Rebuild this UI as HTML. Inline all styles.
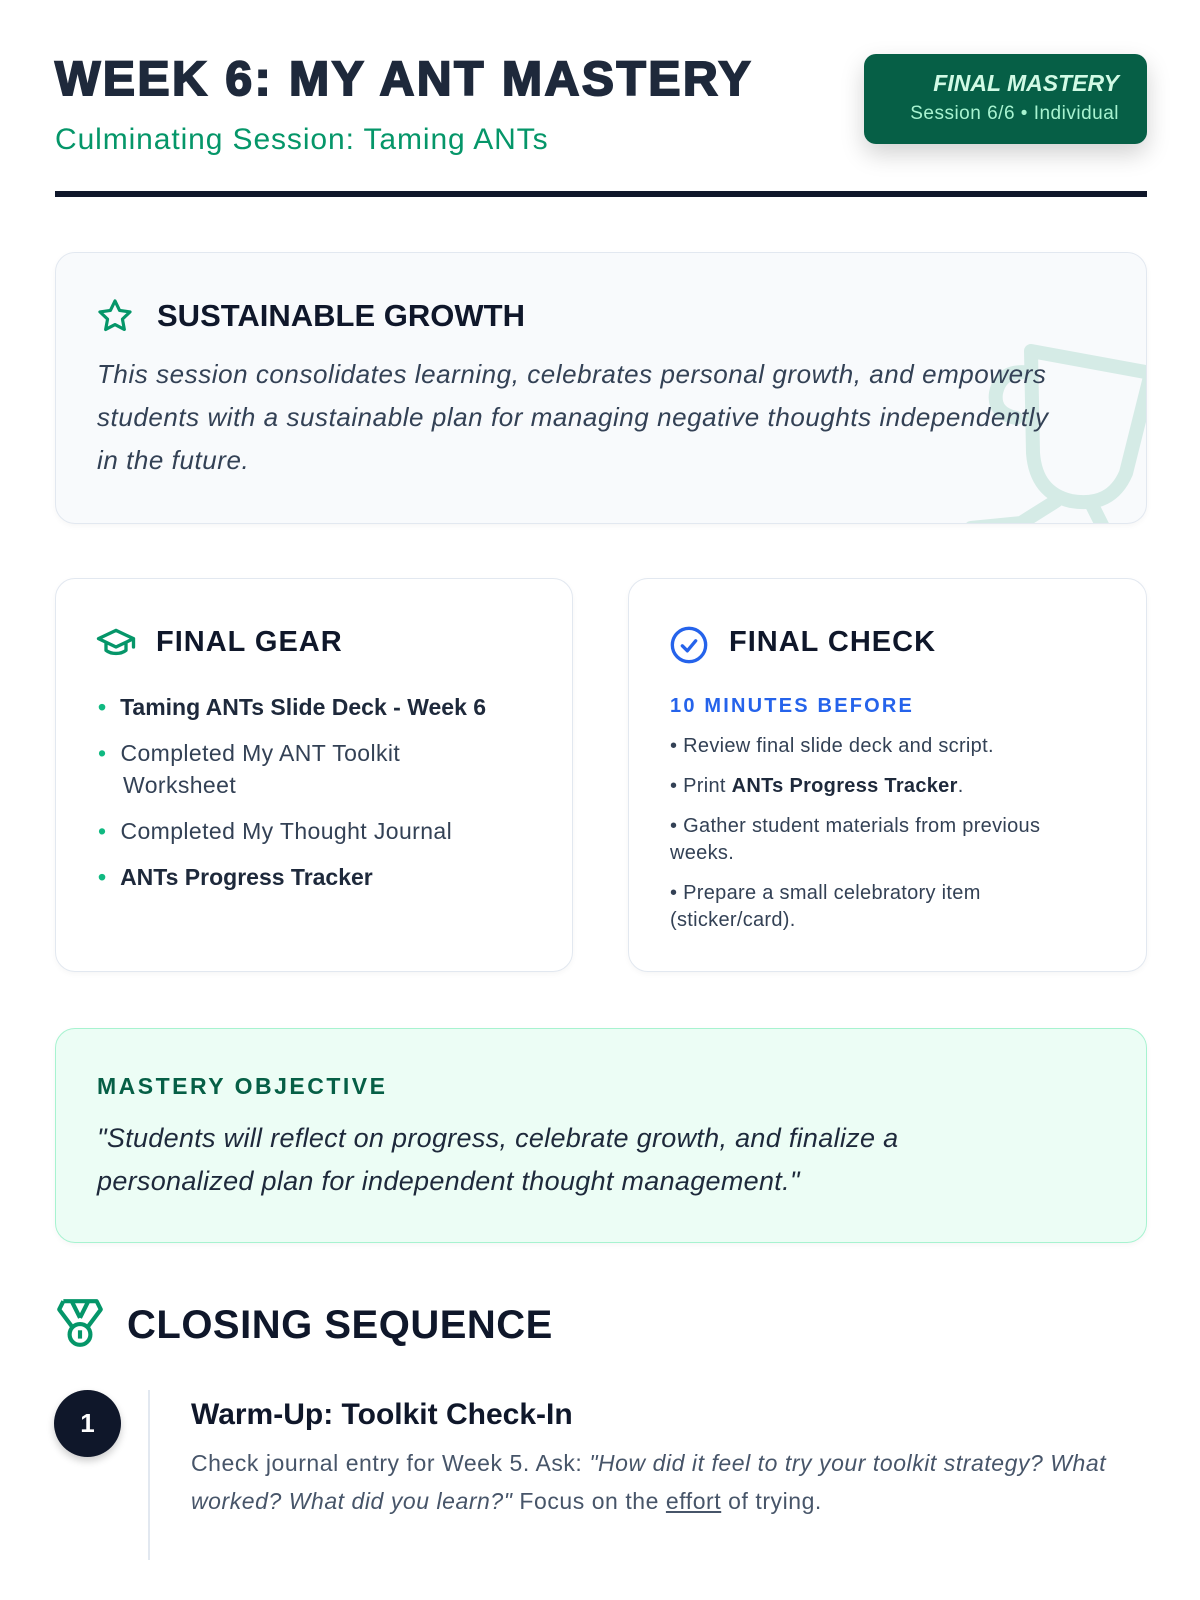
<!DOCTYPE html>
<html><head><meta charset="utf-8"><style>
*{box-sizing:border-box;margin:0;padding:0}
body{width:1200px;height:1600px;background:#fff;font-family:"Liberation Sans",sans-serif;color:#0f172a;position:relative;overflow:hidden}
.abs{position:absolute}
.card{position:absolute;border:1.5px solid #e2e8f0;border-radius:20px;background:#fff;box-shadow:0 2px 6px rgba(0,0,0,.04)}
h2{font-size:29px;font-weight:bold;letter-spacing:.3px;color:#0f172a}
ul{list-style:none}
</style></head><body>
<div class="abs" style="left:55px;top:52px;font-size:48px;font-weight:900;letter-spacing:2.6px;color:#1e293b;-webkit-text-stroke:2px #1e293b">WEEK 6: MY ANT MASTERY</div>
<div class="abs" style="left:55px;top:123px;font-size:30px;letter-spacing:.9px;color:#059669">Culminating Session: Taming ANTs</div>
<div class="abs" style="left:864px;top:54px;width:283px;height:90px;background:#065f46;border-radius:12px;box-shadow:0 10px 24px rgba(0,0,0,.18);text-align:right;padding:16px 28px 0 0">
<div style="font-size:23px;font-weight:bold;font-style:italic;color:#d1fae5">FINAL MASTERY</div>
<div style="font-size:19px;color:#a7f3d0;margin-top:6px;letter-spacing:.5px">Session 6/6 • Individual</div></div>
<div class="abs" style="left:55px;top:191px;width:1092px;height:6px;background:#0f172a"></div>

<div class="card" style="left:55px;top:252px;width:1092px;height:272px;background:#f8fafc;overflow:hidden">
<svg class="abs" style="left:905px;top:80px" width="200" height="210" viewBox="0 0 200 210"><g fill="none" stroke="#d5ebe6" stroke-width="14" stroke-linecap="round" stroke-linejoin="round"><path d="M70 18 L190 40 L165 140 Q150 175 110 168 Q75 160 72 120 Z"/><path d="M70 40 Q40 35 35 60 Q32 80 55 85"/><path d="M95 168 L60 190 L10 195"/><path d="M130 170 L150 210"/></g></svg>
<svg class="abs" style="left:40px;top:44px" width="38" height="38" viewBox="0 0 24 24"><path d="M12 2.5l2.9 6 6.6.9-4.8 4.6 1.2 6.5L12 17.4l-5.9 3.1 1.2-6.5L2.5 9.4l6.6-.9z" fill="none" stroke="#059669" stroke-width="2" stroke-linejoin="round"/></svg>
<h2 class="abs" style="left:101px;top:45px;font-size:31px;letter-spacing:0">SUSTAINABLE GROWTH</h2>
<div class="abs" style="left:41px;top:100px;width:972px;font-size:26px;font-style:italic;line-height:43px;letter-spacing:.55px;color:#334155">This session consolidates learning, celebrates personal growth, and empowers students with a sustainable plan for managing negative thoughts independently in the future.</div>
</div>

<div class="card" style="left:55px;top:578px;width:518px;height:394px">
<svg class="abs" style="left:40px;top:46px" width="40" height="34" viewBox="0 0 24 20"><path d="M12 3L1.5 8 12 13 22.5 8z M6 10.5v4.5c3 2.5 9 2.5 12 0v-4.5 M22.5 8v5" fill="none" stroke="#059669" stroke-width="2" stroke-linejoin="round" stroke-linecap="round"/></svg>
<h2 class="abs" style="left:100px;top:47px;letter-spacing:1px">FINAL GEAR</h2>
<ul class="abs" style="left:42px;top:112px;font-size:23px;line-height:32px;color:#334155">
<li style="font-weight:bold;color:#1e293b"><span style="color:#10b981;margin-right:14px">•</span>Taming ANTs Slide Deck - Week 6</li>
<li style="margin-top:14px;padding-left:25px;text-indent:-25px;letter-spacing:.4px"><span style="color:#10b981;margin-right:14px">•</span>Completed My ANT Toolkit<br>Worksheet</li>
<li style="margin-top:14px;letter-spacing:.4px"><span style="color:#10b981;margin-right:14px">•</span>Completed My Thought Journal</li>
<li style="margin-top:14px;font-weight:bold;color:#1e293b"><span style="color:#10b981;margin-right:14px">•</span>ANTs Progress Tracker</li></ul>
</div>

<div class="card" style="left:628px;top:578px;width:519px;height:394px">
<svg class="abs" style="left:40px;top:46px" width="40" height="40" viewBox="0 0 24 24"><circle cx="12" cy="12" r="10" fill="none" stroke="#2563eb" stroke-width="2"/><path d="M8 12.5l3 3 5-6" fill="none" stroke="#2563eb" stroke-width="2" stroke-linecap="round" stroke-linejoin="round"/></svg>
<h2 class="abs" style="left:100px;top:47px;letter-spacing:1px">FINAL CHECK</h2>
<div class="abs" style="left:41px;top:116px;font-size:20px;font-weight:bold;letter-spacing:2.2px;color:#2563eb">10 MINUTES BEFORE</div>
<div class="abs" style="left:41px;top:154px;width:400px;font-size:20px;line-height:27px;letter-spacing:.3px;color:#334155">
<div>• Review final slide deck and script.</div>
<div style="margin-top:13px">• Print <b style="color:#1e293b">ANTs Progress Tracker</b>.</div>
<div style="margin-top:13px">• Gather student materials from previous weeks.</div>
<div style="margin-top:13px">• Prepare a small celebratory item (sticker/card).</div></div>
</div>

<div class="card" style="left:55px;top:1028px;width:1092px;height:215px;background:#ecfdf5;border-color:#a7f3d0">
<div class="abs" style="left:41px;top:44px;font-size:23px;font-weight:bold;letter-spacing:2.5px;color:#065f46">MASTERY OBJECTIVE</div>
<div class="abs" style="left:41px;top:88px;width:900px;font-size:27px;font-style:italic;line-height:43px;letter-spacing:.3px;color:#1e293b">"Students will reflect on progress, celebrate growth, and finalize a personalized plan for independent thought management."</div>
</div>

<svg class="abs" style="left:55px;top:1297px" width="50" height="52" viewBox="0 0 24 25"><path d="M4 2h16l2 4-6 8 M8 2l4 8 M16 2l-4 8 M4 2L2 6l6 8" fill="none" stroke="#059669" stroke-width="2" stroke-linejoin="round"/><circle cx="12" cy="18" r="5" fill="none" stroke="#059669" stroke-width="2"/><path d="M12 16v4" stroke="#059669" stroke-width="2"/></svg>
<div class="abs" style="left:127px;top:1303px;font-size:40px;font-weight:bold;letter-spacing:.5px;color:#0f172a">CLOSING SEQUENCE</div>

<div class="abs" style="left:54px;top:1390px;width:67px;height:67px;border-radius:50%;background:#0f172a;color:#fff;font-size:26px;font-weight:bold;text-align:center;line-height:67px;box-shadow:0 4px 8px rgba(0,0,0,.2)">1</div>
<div class="abs" style="left:148px;top:1390px;width:2px;height:170px;background:#e2e8f0"></div>
<div class="abs" style="left:191px;top:1398px;font-size:30px;font-weight:bold;color:#0f172a">Warm-Up: Toolkit Check-In</div>
<div class="abs" style="left:191px;top:1444px;width:960px;font-size:23px;line-height:38px;letter-spacing:.55px;color:#475569">Check journal entry for Week 5. Ask: <i>"How did it feel to try your toolkit strategy? What worked? What did you learn?"</i> Focus on the <u>effort</u> of trying.</div>
</body></html>
